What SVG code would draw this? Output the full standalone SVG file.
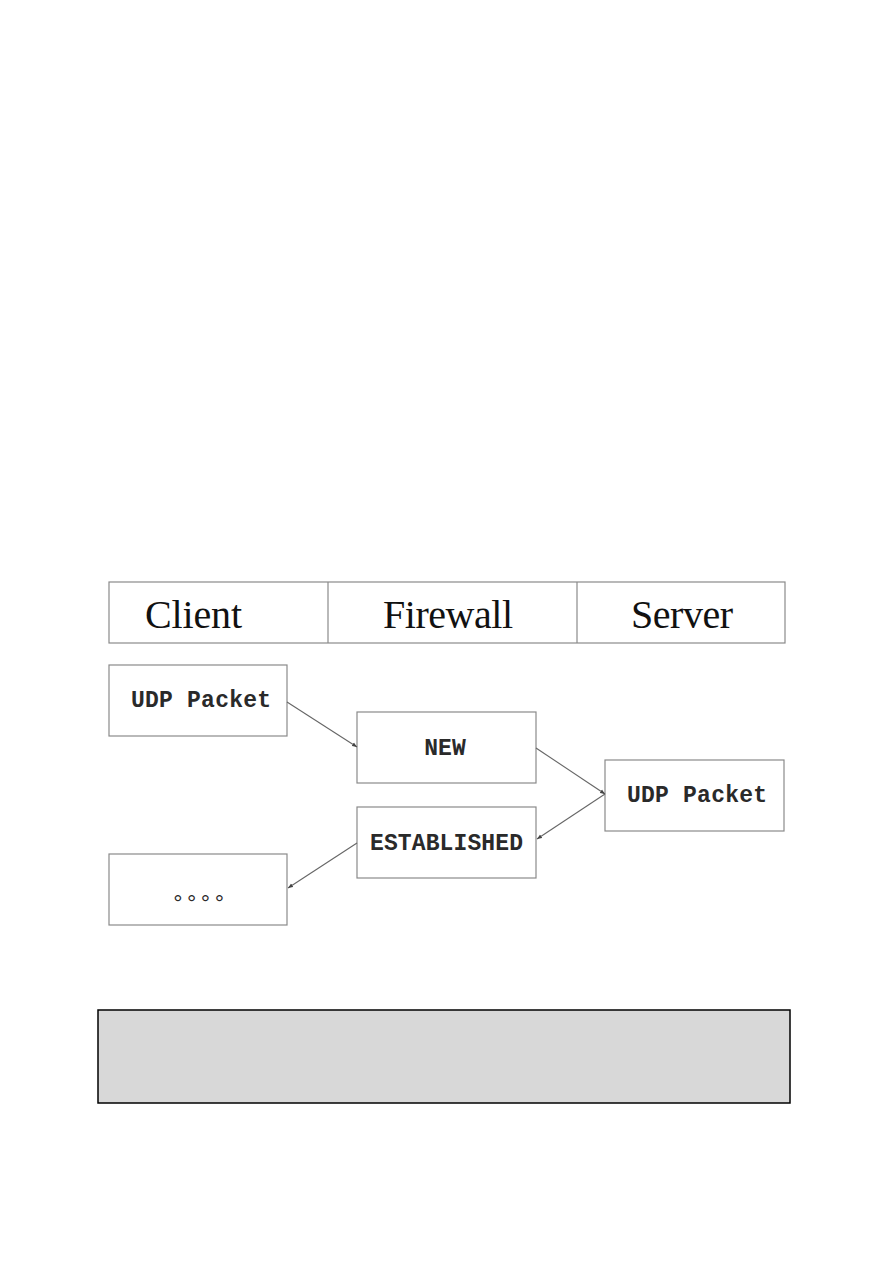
<svg xmlns="http://www.w3.org/2000/svg" width="893" height="1263" viewBox="0 0 893 1263">
<style>
.box{fill:#fff;stroke:#8a8a8a;stroke-width:1.2}
.hdr{font-family:"Liberation Serif",serif;font-size:40px;fill:#111}
.mono{font-family:"Liberation Mono","Courier New",monospace;font-size:23px;font-weight:bold;fill:#2a2a2a}
.conn{stroke:#666;stroke-width:1.1;fill:none;marker-end:url(#ah)}
</style>
<defs>
<marker id="ah" viewBox="0 0 10 10" refX="10" refY="5" markerWidth="5" markerHeight="5" orient="auto" markerUnits="userSpaceOnUse">
<path d="M0,1 L10,5 L0,9 z" fill="#444"/>
</marker>
</defs>
<rect width="893" height="1263" fill="#fff"/>
<g id="header">
<rect class="box" x="109" y="582" width="676" height="61"/>
<line x1="328" y1="582" x2="328" y2="643" stroke="#8a8a8a" stroke-width="1.2"/>
<line x1="577" y1="582" x2="577" y2="643" stroke="#8a8a8a" stroke-width="1.2"/>
<text class="hdr" x="145" y="628" textLength="97">Client</text>
<text class="hdr" x="383" y="628" textLength="130">Firewall</text>
<text class="hdr" x="631" y="628" textLength="102">Server</text>
</g>
<g id="client-udp">
<rect class="box" x="109" y="665" width="178" height="71"/>
<text class="mono" x="131" y="707" textLength="140">UDP Packet</text>
</g>
<g id="new">
<rect class="box" x="357" y="712" width="179" height="71"/>
<text class="mono" x="445" y="755" text-anchor="middle">NEW</text>
</g>
<g id="server-udp">
<rect class="box" x="605" y="760" width="179" height="71"/>
<text class="mono" x="627" y="802" textLength="140">UDP Packet</text>
</g>
<g id="established">
<rect class="box" x="357" y="807" width="179" height="71"/>
<text class="mono" x="370" y="850" textLength="153">ESTABLISHED</text>
</g>
<g id="dots">
<rect class="box" x="109" y="854" width="178" height="71"/>
<text class="mono" x="171" y="911" style="font-weight:normal">°°°°</text>
</g>
<g id="connectors">
<line class="conn" x1="287" y1="702" x2="357" y2="747"/>
<line class="conn" x1="536" y1="748" x2="605" y2="794"/>
<line class="conn" x1="605" y1="794" x2="537" y2="839"/>
<line class="conn" x1="357" y1="843" x2="288" y2="888"/>
</g>
<g id="note">
<rect x="98" y="1010" width="692" height="93" fill="#d8d8d8" stroke="#000" stroke-width="1.5"/>
</g>
</svg>
